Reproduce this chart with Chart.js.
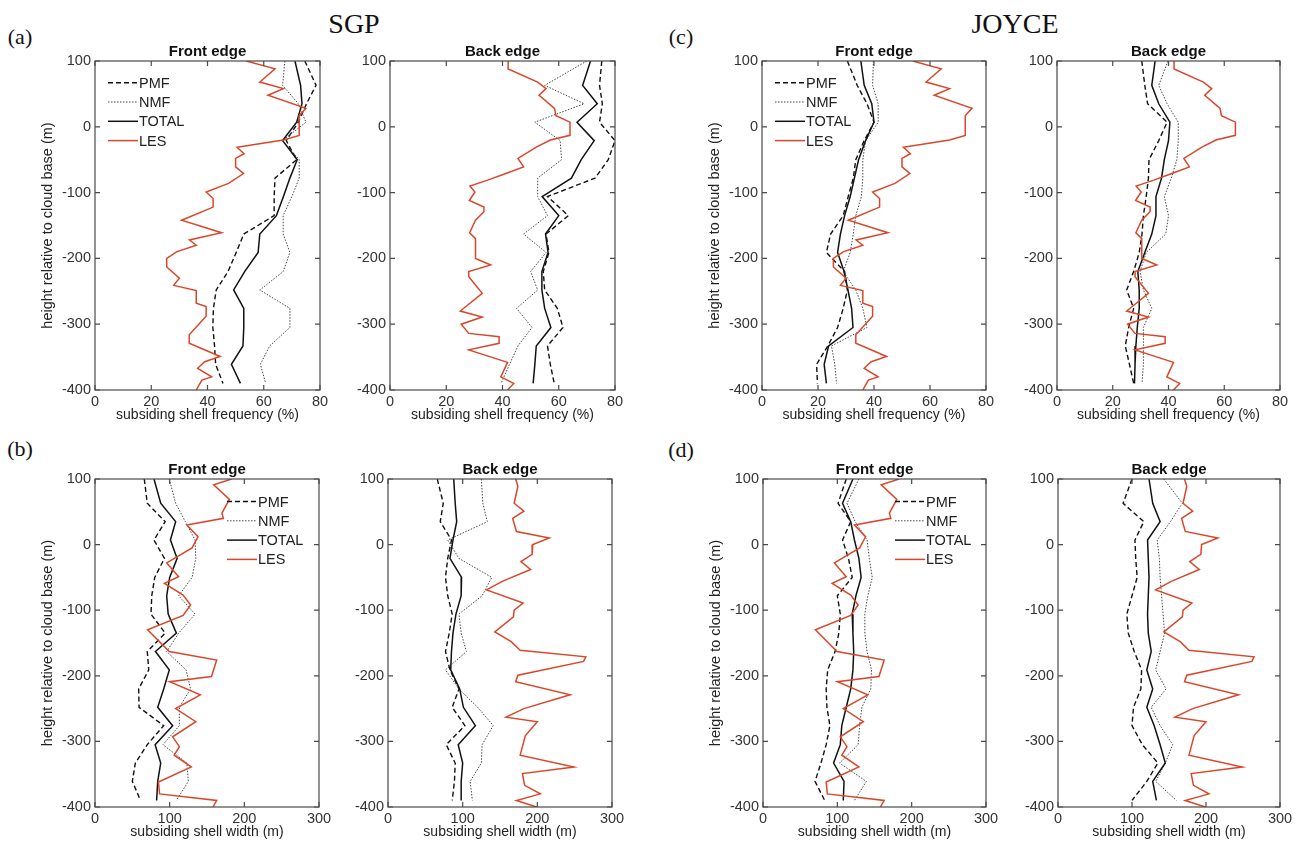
<!DOCTYPE html>
<html>
<head>
<meta charset="utf-8">
<title>Subsiding shell</title>
<script src="https://cdn.jsdelivr.net/npm/chart.js@4.4.1/dist/chart.umd.min.js"></script>
<style>
  html, body { margin: 0; padding: 0; background: #fff; }
  body { position: relative; width: 1302px; height: 854px; overflow: hidden; }
  canvas { position: absolute; }
  .txt { position: absolute; font-family: "Liberation Serif", "Times New Roman", serif; color: #111;
         line-height: 1; white-space: nowrap; transform: translate(-50%, -50%); }
</style>
</head>
<body>
<div class="txt" style="left:354px;top:24px;font-size:28px">SGP</div>
<div class="txt" style="left:1015px;top:24px;font-size:28px">JOYCE</div>
<div class="txt" style="left:20px;top:37px;font-size:22px">(a)</div>
<div class="txt" style="left:20px;top:449px;font-size:22px">(b)</div>
<div class="txt" style="left:681px;top:37px;font-size:22px">(c)</div>
<div class="txt" style="left:681px;top:450px;font-size:22px">(d)</div>
<script>
// observation bins, height relative to cloud base (m)
const obsH = [100, 63, 35, 7, -21, -50, -78, -106, -135, -163, -191, -220, -248, -276, -305, -333, -361, -390];

// (a) SGP, subsiding shell frequency (%)
const sgpFrontPMF = [74.6, 78.6, 75.2, 72.3, 68, 71.7, 64, 63.7, 63.7, 52.9, 50.2, 47.3, 43.1, 42.1, 41.9, 42.5, 42.9, 45.5];
const sgpFrontNMF = [67.5, 66.7, 72.3, 75, 66.7, 72.6, 72.6, 70, 66.9, 66.9, 69.3, 66.9, 58.6, 69.3, 69.3, 62.1, 58.8, 60.7];
const sgpFrontTOT = [71.1, 73.1, 73.6, 71.7, 66.7, 71.9, 69.3, 67, 64.5, 58.6, 58, 53.2, 49.3, 52.9, 52.9, 52.6, 48.5, 51.7];
const sgpBackPMF = [75.3, 74.5, 75.5, 74.5, 80, 77.6, 72.9, 56, 63.4, 55.5, 56.5, 54.5, 55, 59.5, 61.5, 56, 57, 58.4];
const sgpBackNMF = [70, 55, 69, 51.5, 60.5, 61, 52.5, 52.5, 56, 47.5, 55.5, 50, 52.5, 45, 50.5, 45.5, 42.5, 39.5];
const sgpBackTOT = [71.3, 68.5, 73.7, 66.5, 72.6, 68, 64.5, 54.1, 60, 55.3, 56.2, 54, 54, 55, 57.2, 52, 51.5, 50.9];

// (c) JOYCE, subsiding shell frequency (%)
const joyFrontPMF = [30.5, 34, 37.5, 40, 36.5, 33.5, 32.6, 30.8, 29, 24.5, 23, 29.5, 30.5, 29, 27, 23.5, 19.5, 19.8];
const joyFrontNMF = [39.8, 39.5, 41.5, 41.5, 37, 36, 36, 35.5, 33.5, 32.6, 31.5, 29, 33.5, 36, 37.5, 24.8, 26, 26.6];
const joyFrontTOT = [35.3, 36.5, 39.2, 40, 37, 34.5, 33, 31.5, 29.5, 28, 27, 29.3, 30.7, 32, 32.5, 23.8, 22.2, 23];
const joyBackPMF = [30.4, 31.5, 32.5, 39.5, 36.5, 33, 32.8, 32, 31, 30.5, 29.5, 27.5, 25, 27.5, 25.7, 24.5, 26, 27.5];
const joyBackNMF = [39.8, 36.5, 39.5, 43.5, 43.5, 43, 41, 38.5, 40, 39, 32, 29.8, 31, 34, 31, 31, 31, 30.5];
const joyBackTOT = [35.2, 34, 36.5, 40.5, 40, 38.5, 37.5, 35.5, 35.5, 34, 31.5, 29, 29.5, 29.5, 28.8, 28.3, 28, 27.8];

// (b) SGP, subsiding shell width (m)
const sgpFrontWPMF = [66, 70, 94, 79, 93, 80, 76, 75, 94, 70, 72, 58.5, 59, 92, 70, 54, 50, 61];
const sgpFrontWNMF = [99.5, 108, 121, 134, 135, 130, 112, 134, 112, 96, 122, 128, 113, 113, 91, 123, 125, 109];
const sgpFrontWTOT = [79, 88, 108, 101, 110, 100, 96, 98, 109, 81, 99.5, 92, 84, 104, 80.5, 88, 84, 82.5];
const sgpBackWPMF = [66, 74, 70, 85, 80, 77, 80, 86, 82, 77, 83, 95, 86, 103, 78, 90, 89, 86];
const sgpBackWNMF = [125, 127, 133, 80, 95, 139, 126, 95, 98, 105, 77, 95, 120, 141, 126, 125, 110, 113];
const sgpBackWTOT = [88, 90, 92, 87, 83, 98.5, 98, 91, 87, 85, 84, 96, 101, 117, 94, 100, 98, 98];

// (d) JOYCE, subsiding shell width (m)
const joyFrontWPMF = [112, 101, 118, 107, 115, 120, 100, 104, 102, 97, 87, 85, 86, 90, 85, 78, 70, 83];
const joyFrontWNMF = [129, 113, 124, 140, 143, 147, 141, 137, 137, 140, 146, 145, 133, 130, 128, 103, 139, 123];
const joyFrontWTOT = [121, 107, 118, 123, 129, 132, 125, 120, 121, 122, 121, 118, 112, 106, 104, 95, 109, 108];
const joyBackWPMF = [100, 88, 116, 104, 105, 107, 100, 93, 95, 103, 113, 112, 102, 100, 114, 135, 120, 100];
const joyBackWNMF = [143, 168, 152, 134, 137, 138, 140, 142, 144, 138, 132, 146, 126, 138, 155, 145, 132, 160];
const joyBackWTOT = [123, 128, 138, 121, 122, 123, 122, 121, 122, 126, 120, 128, 120, 130, 138, 145, 128, 133];

// LES (same simulation in the SGP and JOYCE panels)
const lesFreqFrontH = [100, 88, 68, 58, 48, 28, 17, -13, -20, -31, -41, -48, -61, -71, -86, -99, -109, -122, -142, -161,
  -172, -180, -190, -200, -213, -230, -241, -249, -268, -273, -288, -316, -329, -349, -357, -367, -380, -385, -400];
const lesFreqFront = [53.8, 64, 58.6, 67, 61.5, 75, 72.6, 72.6, 67, 50.5, 53, 50, 50, 52.8, 47.5, 39.5, 42, 42, 30.8, 45,
  33.6, 36, 29, 25.5, 25.5, 30, 28, 36, 36, 39.5, 39.5, 33.5, 33.5, 44.5, 39, 36.5, 41.5, 38, 36];
const lesFreqBackH = [100, 88, 68, 58, 48, 28, 17, 7, -13, -20, -31, -48, -61, -71, -81, -90, -99, -112, -122, -129,
  -142, -161, -170, -200, -210, -220, -228, -253, -280, -289, -300, -314, -319, -329, -339, -358, -380, -390, -400];
const lesFreqBack = [42, 42, 52.5, 55.5, 53, 58.5, 59, 64, 64, 57, 52, 45.5, 47.5, 41.2, 34.7, 28.4, 30.2, 28.2, 33.4, 33.4,
  30.4, 28.3, 30.4, 30.4, 35.8, 28, 28, 32.8, 25, 32.8, 25.3, 28, 38.8, 38.8, 28, 41.8, 39.4, 44, 41.8];
const lesWidthFrontH = [100, 91, 69, 48, 40, 30, 12, -5, -28, -49, -59, -77, -92, -108, -130, -163, -176, -201, -209, -229,
  -250, -270, -293, -308, -321, -339, -362, -380, -390, -400];
const lesWidthFront = [183, 159, 180, 170, 172, 123, 138, 130, 96, 112, 93, 118, 128, 118, 70.5, 99.5, 163, 156, 100, 141,
  108, 135, 104, 113, 106, 129, 85, 86.5, 163, 158];
const lesWidthBackH = [100, 89, 63, 51, 40, 20, 10, 0, -15, -26, -38, -56, -69, -89, -100, -110, -133, -148, -161, -171,
  -178, -199, -209, -229, -250, -263, -270, -291, -321, -339, -349, -367, -380, -390, -400];
const lesWidthBack = [171, 174, 169, 182, 167, 172, 216, 194, 193, 178, 191, 153, 132, 181, 169, 168, 143, 165, 177, 265,
  262, 174, 171, 244, 182, 158, 200, 184, 177, 249, 180, 183, 204, 172, 199];

const FONT = '"Liberation Sans", Arial, sans-serif';
const M = 85, MT = 27, MB = 48;

const lineStyle = {
  LES:   { borderColor: '#d9472b', borderWidth: 1.5, borderDash: [] },
  TOTAL: { borderColor: '#111', borderWidth: 1.5, borderDash: [] },
  NMF:   { borderColor: '#444', borderWidth: 1, borderDash: [1.5, 1.5] },
  PMF:   { borderColor: '#111', borderWidth: 1.4, borderDash: [5, 3] }
};

function pts(hs, vs) {
  return hs.map((h, i) => ({ x: vs[i], y: h }));
}

// frame, inward ticks on all four sides and the in-plot legend
const boxAndLegend = {
  id: 'boxAndLegend',
  afterDatasetsDraw(chart, args, o) {
    const { ctx, chartArea: a, scales: { x, y } } = chart;
    ctx.save();
    ctx.strokeStyle = '#4a4a4a';
    ctx.lineWidth = 1.2;
    ctx.beginPath();
    x.ticks.forEach(t => {
      const px = x.getPixelForValue(t.value);
      ctx.moveTo(px, a.bottom); ctx.lineTo(px, a.bottom - 5);
      ctx.moveTo(px, a.top); ctx.lineTo(px, a.top + 5);
    });
    y.ticks.forEach(t => {
      const py = y.getPixelForValue(t.value);
      ctx.moveTo(a.left, py); ctx.lineTo(a.left + 5, py);
      ctx.moveTo(a.right, py); ctx.lineTo(a.right - 5, py);
    });
    ctx.stroke();
    ctx.strokeRect(a.left, a.top, a.right - a.left, a.bottom - a.top);

    if (o.show) {
      ctx.font = '14.5px ' + FONT;
      ctx.textBaseline = 'middle';
      ctx.fillStyle = '#222';
      ['PMF', 'NMF', 'TOTAL', 'LES'].forEach((name, i) => {
        const ds = chart.data.datasets.find(d => d.label === name);
        const lx = a.left + o.x, ly = a.top + o.y + i * 19.3;
        ctx.strokeStyle = ds.borderColor;
        ctx.lineWidth = ds.borderWidth;
        ctx.setLineDash(ds.borderDash);
        ctx.beginPath(); ctx.moveTo(lx, ly); ctx.lineTo(lx + 30, ly); ctx.stroke();
        ctx.setLineDash([]);
        ctx.fillText(name, lx + 31, ly + 1);
      });
    }
    ctx.restore();
  }
};

function addPanel(p) {
  const w = p.r - p.l, h = p.b - p.t;
  const cv = document.createElement('canvas');
  cv.width = w + 2 * M;
  cv.height = h + MT + MB;
  cv.style.left = (p.l - M) + 'px';
  cv.style.top = (p.t - MT) + 'px';
  document.body.appendChild(cv);

  const datasets = [
    Object.assign({ label: 'LES', data: pts(p.les[0], p.les[1]) }, lineStyle.LES),
    Object.assign({ label: 'TOTAL', data: pts(obsH, p.tot) }, lineStyle.TOTAL),
    Object.assign({ label: 'NMF', data: pts(obsH, p.nmf) }, lineStyle.NMF),
    Object.assign({ label: 'PMF', data: pts(obsH, p.pmf) }, lineStyle.PMF)
  ];
  datasets.forEach(d => { d.showLine = true; d.pointRadius = 0; d.fill = false; d.tension = 0; });

  new Chart(cv, {
    type: 'scatter',
    data: { datasets },
    options: {
      responsive: false,
      devicePixelRatio: 1,
      animation: false,
      events: [],
      layout: { padding: 0 },
      plugins: {
        legend: { display: false },
        tooltip: { enabled: false },
        title: {
          display: true, text: p.title, color: '#111',
          font: { family: FONT, size: 15, weight: 'bold' },
          padding: { top: 9, bottom: 0 }
        },
        boxAndLegend: p.leg
      },
      scales: {
        x: {
          type: 'linear', min: 0, max: p.xMax,
          ticks: { stepSize: p.xStep, color: '#333', font: { family: FONT, size: 14.5 }, padding: 3, maxRotation: 0 },
          grid: { display: false, drawTicks: false },
          border: { display: false },
          title: { display: true, text: p.xLab, color: '#222', font: { family: FONT, size: 14 }, padding: { top: 0, bottom: 14.6 } },
          afterFit: s => { s.height = MB; }
        },
        y: {
          type: 'linear', min: -400, max: 100,
          ticks: { stepSize: 100, color: '#333', font: { family: FONT, size: 14.5 }, padding: 4 },
          grid: { display: false, drawTicks: false },
          border: { display: false },
          title: { display: !!p.yLab, text: p.yLab || '', color: '#222', font: { family: FONT, size: 14.5 }, padding: { top: 29.4, bottom: 0 } },
          afterFit: s => { s.width = M; }
        },
        // empty right-hand axis keeps the plot centred in its canvas
        yr: {
          type: 'linear', position: 'right', min: -400, max: 100,
          ticks: { display: false },
          grid: { display: false, drawTicks: false },
          border: { display: false },
          afterFit: s => { s.width = M; }
        }
      }
    },
    plugins: [boxAndLegend]
  });
}

const freqLab = 'subsiding shell frequency (%)';
const widthLab = 'subsiding shell width (m)';
const yLab = 'height relative to cloud base (m)';
const legTop = { show: true, x: 13, y: 21.7 };
const legBot = { show: true, x: 132, y: 22.5 };
const noLeg = { show: false };

[
  { l: 95, r: 320, t: 61, b: 390, title: 'Front edge', xLab: freqLab, xMax: 80, xStep: 20, yLab, leg: legTop,
    pmf: sgpFrontPMF, nmf: sgpFrontNMF, tot: sgpFrontTOT, les: [lesFreqFrontH, lesFreqFront] },
  { l: 390, r: 615, t: 61, b: 390, title: 'Back edge', xLab: freqLab, xMax: 80, xStep: 20, leg: noLeg,
    pmf: sgpBackPMF, nmf: sgpBackNMF, tot: sgpBackTOT, les: [lesFreqBackH, lesFreqBack] },
  { l: 762, r: 986, t: 61, b: 390, title: 'Front edge', xLab: freqLab, xMax: 80, xStep: 20, yLab, leg: legTop,
    pmf: joyFrontPMF, nmf: joyFrontNMF, tot: joyFrontTOT, les: [lesFreqFrontH, lesFreqFront] },
  { l: 1057, r: 1280, t: 61, b: 390, title: 'Back edge', xLab: freqLab, xMax: 80, xStep: 20, leg: noLeg,
    pmf: joyBackPMF, nmf: joyBackNMF, tot: joyBackTOT, les: [lesFreqBackH, lesFreqBack] },
  { l: 95, r: 319, t: 479, b: 807, title: 'Front edge', xLab: widthLab, xMax: 300, xStep: 100, yLab, leg: legBot,
    pmf: sgpFrontWPMF, nmf: sgpFrontWNMF, tot: sgpFrontWTOT, les: [lesWidthFrontH, lesWidthFront] },
  { l: 388, r: 612, t: 479, b: 807, title: 'Back edge', xLab: widthLab, xMax: 300, xStep: 100, leg: noLeg,
    pmf: sgpBackWPMF, nmf: sgpBackWNMF, tot: sgpBackWTOT, les: [lesWidthBackH, lesWidthBack] },
  { l: 763, r: 986, t: 479, b: 807, title: 'Front edge', xLab: widthLab, xMax: 300, xStep: 100, yLab, leg: legBot,
    pmf: joyFrontWPMF, nmf: joyFrontWNMF, tot: joyFrontWTOT, les: [lesWidthFrontH, lesWidthFront] },
  { l: 1058, r: 1280, t: 479, b: 807, title: 'Back edge', xLab: widthLab, xMax: 300, xStep: 100, leg: noLeg,
    pmf: joyBackWPMF, nmf: joyBackWNMF, tot: joyBackWTOT, les: [lesWidthBackH, lesWidthBack] }
].forEach(addPanel);
</script>
</body>
</html>
